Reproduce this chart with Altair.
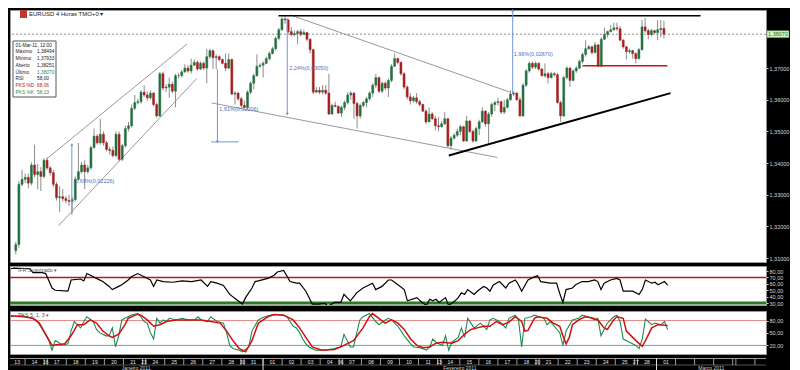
import altair as alt
import pandas as pd

# ---------------- data ----------------
FIRST_OPEN = 1.3124
CLOSE = [
    1.3143, 1.3333, 1.3349, 1.3355, 1.3337,
    1.3394, 1.3364, 1.3373, 1.3358, 1.3409, 1.3385,
    1.3370,
    1.3333, 1.3291, 1.3294, 1.3288, 1.3282, 1.3279,
    1.3285, 1.3349, 1.3373, 1.3394, 1.3373, 1.3385,
    1.3449, 1.3485, 1.3464, 1.3491, 1.3464, 1.3443,
    1.3440, 1.3424, 1.3491, 1.3412, 1.3455, 1.3509,
    1.3518, 1.3573, 1.3591, 1.3594, 1.3624, 1.3615,
    1.3606,
    1.3621, 1.3585, 1.3549, 1.3682, 1.3637, 1.3640,
    1.3649, 1.3627, 1.3676, 1.3676, 1.3688, 1.3700,
    1.3691, 1.3709, 1.3718, 1.3697, 1.3715, 1.3700,
    1.3736, 1.3755, 1.3733, 1.3736, 1.3727, 1.3715,
    1.3700, 1.3727, 1.3618, 1.3621, 1.3603, 1.3582,
    1.3576,
    1.3624, 1.3652, 1.3676, 1.3706, 1.3709, 1.3715,
    1.3730, 1.3746, 1.3761, 1.3794, 1.3821, 1.3855,
    1.3852, 1.3815, 1.3806, 1.3809, 1.3815, 1.3806,
    1.3812, 1.3791, 1.3758, 1.3624, 1.3630, 1.3624,
    1.3630, 1.3621, 1.3555, 1.3582, 1.3579, 1.3558,
    1.3576,
    1.3591, 1.3615, 1.3621, 1.3588, 1.3549, 1.3582,
    1.3591, 1.3603, 1.3621, 1.3646, 1.3670, 1.3627,
    1.3652, 1.3637, 1.3661, 1.3706, 1.3730, 1.3718,
    1.3682, 1.3640, 1.3609, 1.3597, 1.3606, 1.3594,
    1.3585, 1.3564, 1.3530, 1.3555, 1.3540, 1.3518,
    1.3515,
    1.3524, 1.3540, 1.3455, 1.3479, 1.3488, 1.3500,
    1.3515, 1.3470, 1.3533, 1.3500, 1.3470, 1.3509,
    1.3530, 1.3564, 1.3524, 1.3555, 1.3585, 1.3591,
    1.3594, 1.3561, 1.3576, 1.3600, 1.3618, 1.3621,
    1.3600, 1.3549, 1.3646, 1.3691, 1.3715, 1.3703,
    1.3715,
    1.3697, 1.3676, 1.3682, 1.3670, 1.3682, 1.3679,
    1.3591, 1.3549, 1.3670, 1.3700, 1.3661, 1.3691,
    1.3700, 1.3721, 1.3743, 1.3761, 1.3767, 1.3749,
    1.3773, 1.3706, 1.3791, 1.3806, 1.3815, 1.3821,
    1.3827, 1.3824, 1.3788, 1.3767, 1.3752, 1.3755,
    1.3746,
    1.3730, 1.3758, 1.3830, 1.3818, 1.3806, 1.3818,
    1.3812, 1.3821, 1.38251, 1.38070,
]
HIGH = [
    1.3152, 1.3343, 1.3379, 1.3367, 1.3367,
    1.3403, 1.3458, 1.3397, 1.3388, 1.3415, 1.3418,
    1.3391,
    1.3379, 1.3340, 1.3327, 1.3318, 1.3297, 1.3300,
    1.3294, 1.3358, 1.3464, 1.3403, 1.3409, 1.3394,
    1.3455, 1.3509, 1.3491, 1.3540, 1.3500, 1.3470,
    1.3452, 1.3452, 1.3500, 1.3500, 1.3461, 1.3518,
    1.3530, 1.3585, 1.3615, 1.3603, 1.3630, 1.3646,
    1.3627,
    1.3630, 1.3624, 1.3591, 1.3688, 1.3688, 1.3649,
    1.3670, 1.3658, 1.3682, 1.3685, 1.3694, 1.3712,
    1.3709, 1.3730, 1.3727, 1.3724, 1.3721, 1.3721,
    1.3761, 1.3761, 1.3758, 1.3743, 1.3740, 1.3730,
    1.3746, 1.3746, 1.3730, 1.3627, 1.3624, 1.3609,
    1.3597,
    1.3630, 1.3658, 1.3682, 1.3743, 1.3715, 1.3721,
    1.3736, 1.3752, 1.3767, 1.3800, 1.3827, 1.3861,
    1.3866, 1.3855, 1.3830, 1.3818, 1.3821, 1.3824,
    1.3821, 1.3815, 1.3794, 1.3761, 1.3640, 1.3640,
    1.3646, 1.3646, 1.3682, 1.3588, 1.3594, 1.3582,
    1.3582,
    1.3597, 1.3624, 1.3627, 1.3624, 1.3594, 1.3588,
    1.3597, 1.3609, 1.3627, 1.3652, 1.3682, 1.3673,
    1.3658, 1.3658, 1.3667, 1.3712, 1.3746, 1.3733,
    1.3721, 1.3688, 1.3646, 1.3621, 1.3612, 1.3621,
    1.3600, 1.3588, 1.3570, 1.3576, 1.3561, 1.3549,
    1.3546,
    1.3533, 1.3561, 1.3543, 1.3485, 1.3494, 1.3509,
    1.3521, 1.3518, 1.3549, 1.3537, 1.3506, 1.3515,
    1.3537, 1.3576, 1.3567, 1.3561, 1.3591, 1.3597,
    1.3606, 1.3597, 1.3600, 1.3606, 1.3630, 1.3627,
    1.3624, 1.3609, 1.3652, 1.3697, 1.3721, 1.3721,
    1.3721,
    1.3718, 1.3700, 1.3715, 1.3688, 1.3688, 1.3688,
    1.3685, 1.3597, 1.3676, 1.3706, 1.3703, 1.3697,
    1.3706, 1.3727, 1.3749, 1.3788, 1.3773, 1.3770,
    1.3782, 1.3776, 1.3797, 1.3827, 1.3818, 1.3836,
    1.3843, 1.3843, 1.3833, 1.3791, 1.3770, 1.3761,
    1.3758,
    1.3749, 1.3764, 1.3852, 1.3858, 1.3824, 1.3824,
    1.3821, 1.3852, 1.3852, 1.38494,
]
LOW = [
    1.3112, 1.3133, 1.3327, 1.3337, 1.3321,
    1.3330, 1.3355, 1.3318, 1.3312, 1.3352, 1.3379,
    1.3361,
    1.3324, 1.3282, 1.3246, 1.3279, 1.3273, 1.3264,
    1.3243, 1.3279, 1.3343, 1.3367, 1.3318, 1.3367,
    1.3379, 1.3446, 1.3458, 1.3458, 1.3455, 1.3437,
    1.3427, 1.3418, 1.3418, 1.3406, 1.3406, 1.3449,
    1.3500, 1.3512, 1.3567, 1.3585, 1.3588, 1.3609,
    1.3597,
    1.3600, 1.3579, 1.3543, 1.3546, 1.3630, 1.3624,
    1.3606, 1.3621, 1.3576, 1.3667, 1.3670, 1.3685,
    1.3685, 1.3682, 1.3706, 1.3691, 1.3694, 1.3694,
    1.3652, 1.3730, 1.3697, 1.3697, 1.3721, 1.3712,
    1.3691, 1.3697, 1.3615, 1.3585, 1.3597, 1.3576,
    1.3573,
    1.3570, 1.3618, 1.3633, 1.3673, 1.3700, 1.3670,
    1.3712, 1.3724, 1.3743, 1.3755, 1.3788, 1.3818,
    1.3840, 1.3809, 1.3800, 1.3800, 1.3776, 1.3800,
    1.3806, 1.3785, 1.3746, 1.3618, 1.3621, 1.3618,
    1.3618, 1.3615, 1.3552, 1.3552, 1.3576, 1.3555,
    1.3546,
    1.3567, 1.3585, 1.3600, 1.3540, 1.3509, 1.3540,
    1.3576, 1.3576, 1.3597, 1.3609, 1.3637, 1.3621,
    1.3621, 1.3630, 1.3609, 1.3655, 1.3703, 1.3712,
    1.3676, 1.3633, 1.3600, 1.3585, 1.3591, 1.3588,
    1.3579, 1.3561, 1.3524, 1.3530, 1.3537, 1.3503,
    1.3500,
    1.3512, 1.3521, 1.3449, 1.3443, 1.3473, 1.3482,
    1.3488, 1.3467, 1.3467, 1.3494, 1.3464, 1.3467,
    1.3488, 1.3527, 1.3515, 1.3461, 1.3546, 1.3564,
    1.3582, 1.3555, 1.3555, 1.3573, 1.3597, 1.3612,
    1.3597, 1.3546, 1.3546, 1.3640, 1.3685, 1.3697,
    1.3697,
    1.3691, 1.3673, 1.3670, 1.3652, 1.3667, 1.3673,
    1.3588, 1.3530, 1.3546, 1.3664, 1.3640, 1.3658,
    1.3685, 1.3697, 1.3715, 1.3736, 1.3758, 1.3743,
    1.3746, 1.3705, 1.3704, 1.3788, 1.3797, 1.3812,
    1.3818, 1.3818, 1.3785, 1.3761, 1.3727, 1.3746,
    1.3730,
    1.3715, 1.3727, 1.3755, 1.3812, 1.3791, 1.3800,
    1.3806, 1.3788, 1.3797, 1.37933,
]
LAST_PRICE = 1.38070
PRICE_TICKS = [1.31, 1.32, 1.33, 1.34, 1.35, 1.36, 1.37]

RSI_IDX = [0, 1, 6, 7, 10, 11, 13, 14, 18, 19, 22, 23, 24, 26, 27, 29, 31, 32, 34, 35,
           37, 38, 40, 42, 44, 45, 46, 48, 51, 54, 57, 60, 62, 63, 65, 67, 69, 71, 73, 74,
           76, 77, 78, 81, 83, 84, 86, 88, 90, 91, 93, 95, 97, 99, 100, 102, 104, 105, 107, 109,
           111, 114, 115, 117, 119, 120, 122, 124, 125, 128, 129, 131, 132, 133, 134, 135, 137, 138, 140, 141,
           142, 143, 144, 146, 147, 149, 150, 151, 152, 153, 154, 156, 157, 159, 160, 161, 163, 165, 166, 167,
           170, 172, 173, 174, 175, 177, 178, 180, 182, 184, 185, 186, 187, 189, 191, 192, 193, 195, 196, 198,
           199, 200, 202, 203, 204, 206, 207]
RSI_VAL = [83.5, 84.5, 83.5, 77.5, 77.5, 76, 53.5, 50, 48.5, 66, 67.5, 64.5, 76, 71, 68.5, 63.5, 56, 51, 56, 58.5,
           66, 71, 76, 71, 66, 56, 66, 63.5, 62.5, 64.5, 63.5, 66, 56, 63.5, 61, 57.5, 43.5, 36, 28.5, 38.5,
           53.5, 63.5, 64.5, 68.5, 73.5, 78.5, 81, 63.5, 61, 61, 48.5, 28.5, 28.5, 29.5, 25, 31, 31, 43.5, 33.5, 46,
           53.5, 61, 51, 56, 66, 66, 58.5, 51, 33.5, 38.5, 33.5, 26, 36, 33.5, 36, 31, 38.5, 26, 33.5, 38.5,
           46, 43.5, 51, 43.5, 48.5, 56, 53.5, 48.5, 58, 61, 63.5, 53.5, 61, 66, 58.5, 48.5, 66, 71, 72.5, 63.5,
           61, 61, 45, 31, 51, 53.5, 58.5, 63.5, 63.5, 66, 63.5, 51, 61, 66, 68.5, 66, 48.5, 48.5, 48.5, 43.5,
           51, 66, 61, 62.5, 58.5, 63.5, 58.0]

K_IDX = [0, 4, 6, 8, 10, 12, 13, 14, 15, 16, 18, 19, 20, 21, 22, 23, 24, 26, 27, 28,
         30, 31, 32, 33, 34, 35, 36, 38, 40, 41, 42, 43, 44, 45, 46, 47, 48, 49, 50, 52,
         54, 56, 58, 59, 60, 62, 63, 65, 67, 68, 69, 70, 72, 73, 75, 76, 78, 80, 82, 84,
         86, 87, 89, 90, 91, 92, 93, 94, 96, 99, 102, 104, 105, 107, 108, 110, 111, 113, 115, 116,
         118, 119, 120, 122, 124, 126, 127, 129, 131, 132, 133, 134, 136, 137, 138, 139, 141, 142, 143, 144,
         145, 146, 148, 150, 151, 152, 154, 156, 157, 159, 160, 161, 162, 164, 165, 168, 169, 170, 173, 174,
         175, 177, 179, 180, 182, 184, 185, 186, 188, 190, 191, 192, 193, 195, 197, 198, 199, 200, 202, 203,
         205, 206, 207]
K_VAL = [89.2, 91.5, 86.9, 81.5, 58.5, 31.5, 8.5, 31.5, 27.7, 20, 23.8, 54.6, 77.7, 70, 62.3, 77.7, 89.2, 77.7, 58.5, 50.8,
         43.1, 43, 62.3, 16.2, 43.1, 81.5, 85.4, 93.1, 96.9, 89.2, 77.7, 73.8, 50.8, 35.4, 85.4, 73.8, 81.5, 77.7, 85.4, 81.5,
         85.4, 81.5, 81.5, 89.2, 81.5, 77.7, 89.2, 77.7, 73.8, 50.8, 20, 12.3, 8.5, 4.6, 16.2, 54.6, 81.5, 89.2, 93.1, 94.6,
         93.1, 89.2, 66.2, 62.3, 50.8, 35.4, 23.8, 16.2, 8.5, 8.5, 12.3, 16.2, 46.9, 16.2, 16.2, 81.5, 89.2, 96.9, 77.7, 70,
         81.5, 85.4, 81.5, 66.2, 43.1, 23.8, 16.2, 14.6, 8.5, 16.2, 35.4, 27.7, 20, 43.1, 8.5, 27.7, 39.2, 62.3, 39.2, 85.4,
         73.8, 62.3, 73.8, 58.5, 81.5, 85.4, 77.7, 62.3, 85.4, 93.1, 81.5, 16.2, 85.4, 89.2, 93.1, 85.4, 70, 77.7, 50.8, 20,
         54.6, 81.5, 85.4, 93.1, 89.2, 81.5, 85.4, 43.1, 73.8, 89.2, 93.1, 77.7, 35.4, 27.7, 20, 12.3, 35.4, 83.8, 70, 73.8,
         70, 77.7, 58.13]
D_IDX = [0, 4, 7, 9, 11, 13, 15, 17, 19, 21, 23, 25, 27, 29, 31, 32, 34, 36, 37, 40,
         41, 43, 45, 47, 49, 52, 56, 60, 63, 66, 68, 70, 72, 74, 76, 78, 81, 83, 86, 89,
         91, 93, 95, 98, 102, 105, 108, 111, 113, 114, 116, 118, 120, 122, 124, 126, 128, 130, 132, 134,
         136, 139, 141, 143, 145, 147, 149, 151, 153, 155, 157, 159, 161, 162, 163, 165, 166, 169, 171, 173,
         174, 175, 176, 177, 179, 181, 183, 185, 187, 188, 190, 191, 193, 194, 197, 199, 200, 202, 204, 206,
         207]
D_VAL = [91.5, 89.2, 85.4, 73.8, 46.9, 20, 22.3, 23.8, 43.1, 70, 70, 81.5, 73.8, 54.6, 43.1, 39.2, 46.9, 70, 85.4, 95.4,
         93.1, 81.5, 66.2, 70, 77.7, 81.5, 81.5, 81.5, 77.7, 73.8, 54.6, 31.5, 12.3, 4.6, 31.5, 73.8, 89.2, 94.6, 93.1, 81.5,
         62.3, 39.2, 16.2, 8.5, 10, 20, 31.5, 62.3, 89.2, 96.9, 85.4, 73.8, 81.5, 73.8, 58.5, 35.4, 20, 14.6, 16.2, 25.4,
         27.7, 25.4, 31.5, 46.9, 58.5, 62.3, 66.2, 66.2, 77.7, 70, 76.2, 89.2, 77.7, 54.6, 56.2, 85.4, 89.2, 85.4, 73.8, 66.2,
         43.1, 23.8, 39.2, 70, 81.5, 89.2, 86.9, 81.5, 62.3, 58.5, 81.5, 89.2, 85.4, 54.6, 31.5, 17.7, 31.5, 62.3, 70, 68.5,
         68.06]

DAY_LABELS = ["13", "14", "16", "17", "18", "19", "20", "21", "23", "24", "25", "26", "27", "28", "30", "31",
              "01", "02", "03", "04", "06", "07", "08", "09", "10", "11", "13", "14", "15", "16", "17", "18",
              "20", "21", "22", "23", "24", "25", "27", "28", "01", "", "", "", "", "", ""]
DAY_CANDLES = [5, 6, 1, 6, 6, 6, 6, 6, 1, 6, 6, 6, 6, 6, 1, 6,
               6, 6, 6, 6, 1, 6, 6, 6, 6, 6, 1, 6, 6, 6, 6, 6,
               1, 6, 6, 6, 6, 6, 1, 6, 6, 6, 6, 6, 1, 6, 6]
MONTH_LABELS = ["Janeiro 2011", "Fevereiro 2011", "Março 2011"]
MONTH_FIRST_DAY = [0, 16, 40]

# trend / channel lines drawn on the chart (candle index, price)
GRAY_LINES = {"i1": [9.7, 13.7, 87.6, 62.5], "p1": [1.3412, 1.3203, 1.3868, 1.3590],
              "i2": [54.7, 57.8, 158.1, 153.8], "p2": [1.3776, 1.3667, 1.3623, 1.3418]}
UP_LINE = {"i1": [138.3], "p1": [1.3424], "i2": [209.1], "p2": [1.3621]}
TOP_LINE = {"i1": [83.9], "p1": [1.3865], "i2": [218.7], "p2": [1.3865]}
RED_LINE = {"i1": [181.0], "p1": [1.3707], "i2": [208.1], "p2": [1.3707]}

MEASURE_I = [17.9, 64.4, 86.7, 158.7]
MEASURE_FROM = [1.3459, 1.3697, 1.3858, 1.3882]
MEASURE_TO = [1.3237, 1.3467, 1.3555, 1.3621]
MEASURE_TEXT = ["1,68%(0,02226)", "1,61%(0,02206)", "2,24%(0,03050)", "1,96%(0,02670)"]
MEASURE_TEXT_I = [19.0, 65.0, 87.3, 159.0]
MEASURE_TEXT_P = [1.3343, 1.3570, 1.3700, 1.3743]
UP_HEAD_I = [17.9, 158.7]
UP_HEAD_P = [1.3459, 1.3882]
DOWN_HEAD_I = [64.4, 86.7]
DOWN_HEAD_P = [1.3467, 1.3555]

LEGEND_HEADER = "01-Mar-11, 12:00"
LEGEND_LABELS = ["Máximo", "Mínimo", "Aberto", "Último", "RSI", "PKS %D", "PKS %K"]
LEGEND_VALUES = ["1,38494", "1,37933", "1,38251", "1,38070", "58,00", "68,06", "58,13"]

# ---------------- styling / layout ----------------
FONT = "Liberation Sans"
W = 756
H_MAIN, H_RSI, H_STO, H_DATE = 252, 39, 43, 12
X_DOMAIN = [-0.25, 238.0]
P_DOMAIN = [1.30879, 1.38833]
RSI_DOMAIN = [27, 87.8]
STO_DOMAIN = [-0.8, 103.1]
GREEN, RED, WICK = "#23703f", "#a51f1f", "#8c8c8c"
BLUE, BLUE_TXT = "#7393d8", "#4f6fbf"

n = len(CLOSE)
opens = [FIRST_OPEN] + CLOSE[:-1]
candles = pd.DataFrame({"i": list(range(n)), "open": opens, "close": CLOSE, "high": HIGH, "low": LOW})
candles["dir"] = ["up" if c >= o else "down" for o, c in zip(opens, CLOSE)]

xs = alt.Scale(domain=X_DOMAIN, nice=False, zero=False)
ys = alt.Scale(domain=P_DOMAIN, nice=False, zero=False)
axis_common = dict(title=None, grid=False, domainColor="#8a8a8a", domainDash=[1, 1], tickColor="#d0d0d0",
                   tickSize=2, labelColor="#d8d8d8", labelFont=FONT, labelFontSize=5.5, labelPadding=1)
price_axis = alt.Axis(orient="right", values=PRICE_TICKS,
                      labelExpr="replace(format(datum.value, '.5f'), '.', ',')", **axis_common)


def PX(f):
    return alt.X(f, type="quantitative", scale=xs, axis=None)


def PY(f):
    return alt.Y(f, type="quantitative", scale=ys, axis=price_axis)


one = pd.DataFrame({"k": [0]})

wicks = alt.Chart(candles).mark_rule(color=WICK, strokeWidth=1).encode(x=PX("i"), y=PY("low"), y2="high")
bodies = alt.Chart(candles).mark_bar(size=2, strokeWidth=0.5).encode(
    x=PX("i"), y=PY("open"), y2="close",
    color=alt.Color("dir:N", scale=alt.Scale(domain=["up", "down"], range=[GREEN, RED]), legend=None),
    stroke=alt.Stroke("dir:N", scale=alt.Scale(domain=["up", "down"], range=[GREEN, RED]), legend=None),
)
last_df = pd.DataFrame({"p": [LAST_PRICE], "hi": [LAST_PRICE + 0.0011], "lo": [LAST_PRICE - 0.0011],
                        "t": [LEGEND_VALUES[3]]})
cur_line = alt.Chart(last_df).mark_rule(color="#8a8a8a", strokeDash=[2, 2], strokeWidth=1).encode(y=PY("p"))


def seg_chart(d, **mk):
    return alt.Chart(pd.DataFrame(d)).mark_rule(**mk).encode(x=PX("i1"), x2="i2", y=PY("p1"), y2="p2")


gray_lines = seg_chart(GRAY_LINES, color="#9a9a9a", strokeWidth=1)
up_line = seg_chart(UP_LINE, color="#000000", strokeWidth=2)
top_line = seg_chart(TOP_LINE, color="#000000", strokeWidth=1.5)
red_line = seg_chart(RED_LINE, color="#c01515", strokeWidth=1.5)

meas_df = pd.DataFrame({"i": MEASURE_I, "a": MEASURE_FROM, "b": MEASURE_TO})
meas = alt.Chart(meas_df).mark_rule(color=BLUE, strokeWidth=1).encode(x=PX("i"), y=PY("a"), y2="b")
meas_tick = alt.Chart(pd.DataFrame({"i1": [62.4], "i2": [71.2], "p": [1.3467]})).mark_rule(
    color=BLUE, strokeWidth=1).encode(x=PX("i1"), x2="i2", y=PY("p"))
up_heads = alt.Chart(pd.DataFrame({"i": UP_HEAD_I, "p": UP_HEAD_P})).mark_point(
    shape="triangle-up", filled=True, size=10, color=BLUE, opacity=1).encode(x=PX("i"), y=PY("p"))
down_heads = alt.Chart(pd.DataFrame({"i": DOWN_HEAD_I, "p": DOWN_HEAD_P})).mark_point(
    shape="triangle-down", filled=True, size=10, color=BLUE, opacity=1).encode(x=PX("i"), y=PY("p"))
meas_txt = alt.Chart(pd.DataFrame({"i": MEASURE_TEXT_I, "p": MEASURE_TEXT_P, "t": MEASURE_TEXT})).mark_text(
    align="left", baseline="middle", font=FONT, fontSize=5.5, color=BLUE_TXT).encode(x=PX("i"), y=PY("p"), text="t:N")

# title bar text
title_icon = alt.Chart(one).mark_rect(color="#c0392b").encode(
    x=alt.value(10), x2=alt.value(17), y=alt.value(0), y2=alt.value(8))
title_txt = alt.Chart(one).mark_text(align="left", baseline="middle", font=FONT, fontSize=6, color="#202020").encode(
    x=alt.value(19), y=alt.value(4), text=alt.value("EURUSD 4 Horas TMO+0   ▾"))

# info box
ROW0, ROWH = 35.6, 6.75
lab_colors = ["#202020"] * 5 + ["#c01515", "#1f8a52"]
val_colors = ["#202020", "#202020", "#202020", "#1f8a52", "#202020", "#c01515", "#1f8a52"]
lab_df = pd.DataFrame({"t": [LEGEND_HEADER] + LEGEND_LABELS, "c": ["#202020"] + lab_colors,
                       "o": [ROWH * k for k in range(len(LEGEND_LABELS) + 1)]})
val_df = pd.DataFrame({"t": LEGEND_VALUES, "c": val_colors,
                       "o": [ROWH * (k + 1) for k in range(len(LEGEND_VALUES))]})
info_box = alt.Chart(one).mark_rect(fill="white", stroke="#555555", strokeWidth=1).encode(
    x=alt.value(3), x2=alt.value(46), y=alt.value(31), y2=alt.value(87))
info_lab = alt.Chart(lab_df).mark_text(align="left", baseline="middle", font=FONT, fontSize=4.8).encode(
    x=alt.value(5.5), y=alt.value(ROW0), yOffset=alt.YOffset("o:Q", scale=None),
    color=alt.Color("c:N", scale=None), text="t:N")
info_val = alt.Chart(val_df).mark_text(align="left", baseline="middle", font=FONT, fontSize=4.8).encode(
    x=alt.value(27), y=alt.value(ROW0), yOffset=alt.YOffset("o:Q", scale=None),
    color=alt.Color("c:N", scale=None), text="t:N")

# current price tag on the axis
tag_box = alt.Chart(last_df).mark_rect(fill="#d8f5c8", stroke="#5a9a4a", strokeWidth=0.5).encode(
    x=alt.value(W + 1), x2=alt.value(W + 23), y=PY("hi"), y2="lo")
tag_txt = alt.Chart(last_df).mark_text(align="center", baseline="middle", font=FONT, fontSize=5.5,
                                       color="#1d6b1d").encode(x=alt.value(W + 12), y=PY("p"), text="t:N")

main = alt.layer(
    cur_line, gray_lines, wicks, bodies, up_line, top_line, red_line, meas, meas_tick, up_heads, down_heads,
    meas_txt, info_box, info_lab, info_val, title_icon, title_txt, tag_box, tag_txt,
).properties(width=W, height=H_MAIN)

# ---------------- RSI panel ----------------
rs = alt.Scale(domain=RSI_DOMAIN, nice=False, zero=False)
rsi_axis = alt.Axis(orient="right", values=[30, 40, 50, 60, 70, 80],
                    labelExpr="replace(format(datum.value, '.2f'), '.', ',')", **axis_common)


def RY(f):
    return alt.Y(f, type="quantitative", scale=rs, axis=rsi_axis)


rsi_df = pd.DataFrame({"i": RSI_IDX, "v": RSI_VAL})
rsi_hi = alt.Chart(pd.DataFrame({"v": [70]})).mark_rule(color="#c01515", strokeWidth=1.5).encode(y=RY("v"))
rsi_lo = alt.Chart(pd.DataFrame({"v": [30]})).mark_rule(color="#2a7a2a", strokeWidth=3).encode(y=RY("v"))
rsi_line = alt.Chart(rsi_df).mark_line(color="#000000", strokeWidth=1.2, clip=True).encode(x=PX("i"), y=RY("v"))
rsi_title = alt.Chart(one).mark_text(align="left", baseline="middle", font=FONT, fontSize=5.3, color="#555555").encode(
    x=alt.value(8), y=alt.value(4), text=alt.value("IFR Suavizado ▾"))
rsi = alt.layer(rsi_hi, rsi_lo, rsi_line, rsi_title).properties(width=W, height=H_RSI)

# ---------------- Stochastic panel ----------------
ss = alt.Scale(domain=STO_DOMAIN, nice=False, zero=False)
sto_axis = alt.Axis(orient="right", values=[20, 50, 80],
                    labelExpr="replace(format(datum.value, '.2f'), '.', ',')", **axis_common)


def SY(f):
    return alt.Y(f, type="quantitative", scale=ss, axis=sto_axis)


k_df = pd.DataFrame({"i": K_IDX, "v": K_VAL})
d_df = pd.DataFrame({"i": D_IDX, "v": D_VAL})
sto_hi = alt.Chart(pd.DataFrame({"v": [80]})).mark_rule(color="#e08a8a", strokeWidth=1).encode(y=SY("v"))
sto_lo = alt.Chart(pd.DataFrame({"v": [20]})).mark_rule(color="#5aa9a0", strokeWidth=1).encode(y=SY("v"))
k_line = alt.Chart(k_df).mark_line(color="#1f8a52", strokeWidth=1.1, clip=True).encode(x=PX("i"), y=SY("v"))
d_line = alt.Chart(d_df).mark_line(color="#d01010", strokeWidth=1.5, clip=True).encode(x=PX("i"), y=SY("v"))
sto_title = alt.Chart(one).mark_text(align="left", baseline="middle", font=FONT, fontSize=5.3, color="#555555").encode(
    x=alt.value(8), y=alt.value(4), text=alt.value("PKS 5, 1, 3 ▾"))
sto = alt.layer(sto_hi, sto_lo, k_line, d_line, sto_title).properties(width=W, height=H_STO)

# ---------------- date strip ----------------
starts = []
acc = 0
for c in DAY_CANDLES:
    starts.append(acc)
    acc += c
days_df = pd.DataFrame({"s": [s - 0.5 for s in starts],
                        "c": [s + (c - 1) / 2 for s, c in zip(starts, DAY_CANDLES)],
                        "t": DAY_LABELS})
m_starts = [starts[d] - 0.5 for d in MONTH_FIRST_DAY]
m_ends = m_starts[1:] + [X_DOMAIN[1]]
month_df = pd.DataFrame({"s": m_starts, "c": [(a + b) / 2 for a, b in zip(m_starts, m_ends)], "t": MONTH_LABELS})

day_sep = alt.Chart(days_df).mark_rule(color="#9a9a9a", strokeWidth=1, clip=True).encode(
    x=PX("s"), y=alt.value(0), y2=alt.value(7))
day_top = alt.Chart(one).mark_rule(color="#9a9a9a", strokeWidth=1).encode(
    x=alt.value(0), x2=alt.value(W), y=alt.value(0.5))
day_mid = alt.Chart(one).mark_rule(color="#555555", strokeWidth=1).encode(
    x=alt.value(0), x2=alt.value(W), y=alt.value(7))
day_txt = alt.Chart(days_df).mark_text(baseline="middle", font=FONT, fontSize=5, color="#e6e6e6", clip=True).encode(
    x=PX("c"), y=alt.value(3.9), text="t:N")
mon_sep = alt.Chart(month_df).mark_rule(color="#dddddd", strokeWidth=1, clip=True).encode(
    x=PX("s"), y=alt.value(0), y2=alt.value(12))
mon_txt = alt.Chart(month_df).mark_text(baseline="middle", font=FONT, fontSize=5, color="#cfcfcf", clip=True).encode(
    x=PX("c"), y=alt.value(10), text="t:N")
dates = alt.layer(day_top, day_mid, day_sep, mon_sep, day_txt, mon_txt).properties(
    width=W, height=H_DATE, view=alt.ViewBackground(fill="#000000", stroke="#000000"))

chart = (
    alt.vconcat(main, rsi, sto, dates, spacing=2)
    .properties(padding=0, background="#000000")
    .configure_view(fill="#ffffff", stroke="#9a9a9a", strokeWidth=1)
)

chart.save("out.html", embed_options={"renderer": "svg", "actions": False})
